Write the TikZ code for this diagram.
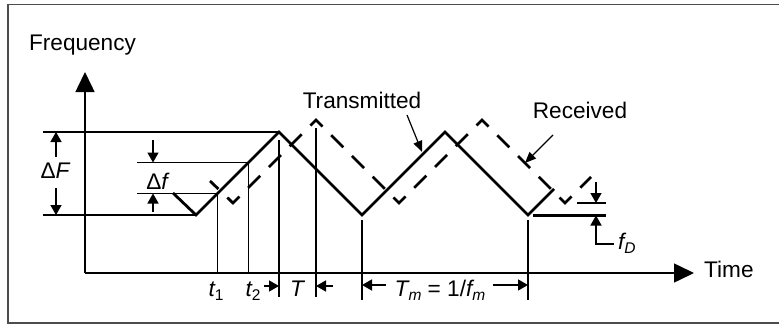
\documentclass[tikz,border=0pt]{standalone}
\usepackage{fontspec}
\setmainfont{Liberation Sans}
\usetikzlibrary{arrows.meta}
\newcommand{\sbs}[1]{\raisebox{-0.35ex}{\fontsize{15.5}{15.5}\selectfont #1}}
\begin{document}
\begin{tikzpicture}[x=1pt,y=-1pt,
  thinl/.style={line width=1.5pt},
  medl/.style={line width=2.1pt},
  sig/.style={line width=2.8pt, line join=miter},
  rx/.style={sig, dash pattern=on 17pt off 12.35pt, dash phase=5.35pt},
  dimarr/.style={line width=1.5pt, -{Triangle[length=10pt,width=11pt]}},
  lblarr/.style={line width=1.2pt, -{Triangle[length=11pt,width=9pt]}},
  axarr/.style={line width=1.5pt, -{Triangle[length=20pt,width=19pt]}},
  lbl/.style={inner sep=0pt, font=\fontsize{22.6}{27}\selectfont},
]
\useasboundingbox (0,0) rectangle (779,325);
% frame
\draw[line width=1.6pt, black!70] (8,4.5) rectangle (800,323);

% axes
\coordinate (O) at (85,273);
\coordinate (ytip) at (85,72);
\coordinate (xtip) at (694,273);
\draw[axarr] (O) -- (ytip);
\draw[axarr] (O) -- (xtip);
\node[lbl, anchor=base] (freq) at (82.5,50) {Frequency};
\node[lbl, anchor=base west] (time) at (704,277) {Time};

% reference lines
\draw[thinl] (43,132) -- (279,132);
\draw[medl] (43,215) -- (196,215);
\draw[thinl] (137,162.5) -- (248.5,162.5);
\draw[thinl] (137,193.5) -- (217.5,193.5);
\draw[thinl] (217.5,194) -- (217.5,273);
\draw[thinl] (248.5,163) -- (248.5,273);
\draw[thinl] (279,140) -- (279,297);
\draw[thinl] (316,128) -- (316,297);
\draw[thinl] (362,220) -- (362,300);
\draw[thinl] (528,220) -- (528,300);
\draw[thinl] (577,203) -- (606,203);
\draw[medl] (533,215.5) -- (606,215.5);

% signals
\draw[sig] (173,193) -- (196,215) -- (279,132) -- (362,215) -- (445,132) -- (528,215) -- (554,189);
\draw[rx] (210,181) -- (233,203) -- (316,120) -- (399,203) -- (482,120) -- (565,203) -- (591,177);

% Delta F
\coordinate (dFa) at (56,157);
\coordinate (dFb) at (56,132);
\coordinate (dFc) at (56,188);
\coordinate (dFd) at (56,215);
\draw[dimarr] (dFa) -- (dFb);
\draw[dimarr] (dFc) -- (dFd);
\node[lbl, anchor=base] (dF) at (55,178) {Δ{\itshape F}};

% Delta f
\draw[dimarr] (153,140) -- (153,162.5);
\draw[dimarr] (153,212) -- (153,193.5);
\node[lbl, anchor=base] (df) at (157,189) {Δ{\itshape f}};

% time labels
\node[lbl, anchor=base] (t1) at (216,296) {{\itshape t}\sbs{1}};
\node[lbl, anchor=base] (t2) at (253,296) {{\itshape t}\sbs{2}};
\node[lbl, anchor=base] (T) at (297,296) {{\itshape T}};
\draw[dimarr] (264,286) -- (279,286);
\draw[dimarr] (333,286) -- (316,286);
\node[lbl, anchor=base] (Tm) at (440,296) {{\itshape T}\sbs{\itshape m} = 1/{\itshape f}\sbs{\itshape m}};
\draw[dimarr] (386,285) -- (362,285);
\draw[dimarr] (493,285) -- (528,285);

% fD
\draw[dimarr] (596,182) -- (596,203);
\node[lbl, anchor=base west] (fD) at (618,249) {{\itshape f}\sbs{\itshape D}};
\coordinate (fDc) at (596,244);
\coordinate (fDe) at (614,244);
\draw[dimarr] (fDe) -- (fDc) -- (596,215.5);

% labels with arrows
\node[lbl, anchor=base] (tx) at (362,108) {Transmitted};
\node[lbl, anchor=base] (rxl) at (580,118) {Received};
\draw[lblarr] (407,115) -- (422,152);
\draw[lblarr] (553,135) -- (525,163);
\end{tikzpicture}
\end{document}
